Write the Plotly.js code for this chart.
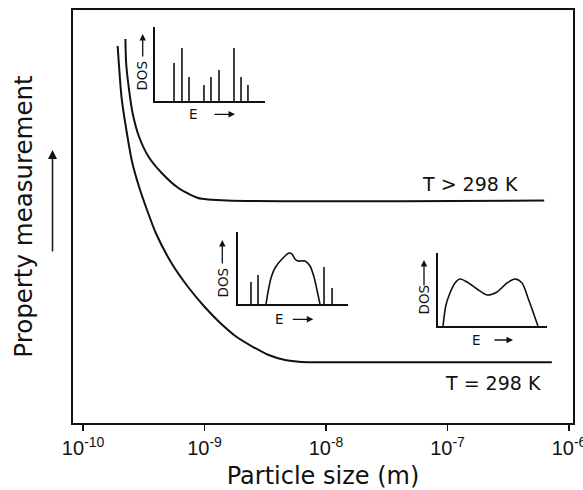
<!DOCTYPE html>
<html>
<head>
<meta charset="utf-8">
<script src="https://cdn.plot.ly/plotly-3.0.1.min.js"></script>
<style>html,body{margin:0;padding:0;background:#fff;}#chart{width:583px;height:490px;}</style>
</head>
<body>
<div id="chart"></div>
<script>
// ---- main curves: particle size (log10 m) vs property (arbitrary units 0-100)
const tickExponents = [-10, -9, -8, -7, -6];
const tickBase = "10";
const tickPowers = ["-10", "-9", "-8", "-7", "-6"];

const hotLogSize = [-9.651, -9.645, -9.624, -9.592, -9.538, -9.459, -9.352, -9.215, -9.054, -8.814, -6.204];
const hotProperty = [92.98, 87.17, 81.36, 75.06, 69.25, 64.41, 60.53, 56.90, 54.48, 53.85, 53.85];

const roomLogSize = [-9.715, -9.683, -9.643, -9.594, -9.538, -9.473, -9.401, -9.272, -9.135, -8.998, -8.870, -8.735, -8.599, -8.472, -8.337, -8.201, -8.018, -6.141];
const roomProperty = [91.28, 78.93, 70.94, 62.95, 57.14, 51.57, 46.0, 38.74, 32.93, 28.09, 24.21, 20.82, 18.40, 16.46, 15.25, 14.8, 14.7, 14.7];

const curveLabels = ["T > 298 K", "T = 298 K"];

// ---- inset 1: discrete levels (smallest particles)
const inset1Energy = [0.173, 0.245, 0.309, 0.445, 0.509, 0.582, 0.718, 0.782, 0.845];
const inset1Dos = [0.514, 0.716, 0.324, 0.216, 0.324, 0.419, 0.716, 0.324, 0.216];

// ---- inset 2: band with discrete edge levels
const inset2LevelEnergy = [0.118, 0.182, 0.782, 0.855];
const inset2LevelDos = [0.306, 0.403, 0.514, 0.222];
const inset2BandEnergy = [0.255, 0.273, 0.300, 0.336, 0.400, 0.464, 0.491, 0.518, 0.545, 0.609, 0.655, 0.691, 0.718, 0.745];
const inset2BandDos = [0.0, 0.167, 0.36, 0.5, 0.625, 0.708, 0.694, 0.625, 0.597, 0.597, 0.528, 0.375, 0.194, 0.0];

// ---- inset 3: continuous band (bulk)
const inset3Energy = [0.046, 0.073, 0.110, 0.156, 0.202, 0.266, 0.358, 0.450, 0.541, 0.633, 0.706, 0.771, 0.826, 0.872, 0.917];
const inset3Dos = [0.0, 0.288, 0.452, 0.589, 0.644, 0.603, 0.507, 0.425, 0.466, 0.589, 0.644, 0.589, 0.384, 0.192, 0.0];

const INK = '#111';
const toMeters = a => a.map(v => Math.pow(10, v));
const tickLabels = tickPowers.map(p => tickBase + "<sup>" + p + "</sup>");
function sticks(energy, dos) {
  const x = [], y = [];
  energy.forEach((e, i) => { x.push(e, e, null); y.push(0, dos[i], null); });
  return {x, y};
}
const s1 = sticks(inset1Energy, inset1Dos);
const s2 = sticks(inset2LevelEnergy, inset2LevelDos);

const traces = [
  {x: toMeters(hotLogSize), y: hotProperty, mode: 'lines', line: {color: INK, width: 2, shape: 'spline', smoothing: 0.6}, xaxis: 'x', yaxis: 'y', hoverinfo: 'skip'},
  {x: toMeters(roomLogSize), y: roomProperty, mode: 'lines', line: {color: INK, width: 2, shape: 'spline', smoothing: 0.6}, xaxis: 'x', yaxis: 'y', hoverinfo: 'skip'},
  {x: s1.x, y: s1.y, mode: 'lines', line: {color: INK, width: 1.6}, xaxis: 'x2', yaxis: 'y2', hoverinfo: 'skip'},
  {x: s2.x, y: s2.y, mode: 'lines', line: {color: INK, width: 1.6}, xaxis: 'x3', yaxis: 'y3', hoverinfo: 'skip'},
  {x: inset2BandEnergy, y: inset2BandDos, mode: 'lines', line: {color: INK, width: 1.6, shape: 'spline', smoothing: 0.7}, xaxis: 'x3', yaxis: 'y3', hoverinfo: 'skip'},
  {x: inset3Energy, y: inset3Dos, mode: 'lines', line: {color: INK, width: 1.6, shape: 'spline', smoothing: 0.8}, xaxis: 'x4', yaxis: 'y4', hoverinfo: 'skip'}
];

function insetAxes(xd, yd, n) {
  const base = {range: [0, 1], showline: true, linewidth: 2, linecolor: INK, showticklabels: false, ticks: '', showgrid: false, zeroline: false, fixedrange: true};
  const o = {};
  o['xaxis' + n] = Object.assign({}, base, {domain: xd, anchor: 'y' + n});
  o['yaxis' + n] = Object.assign({}, base, {domain: yd, anchor: 'x' + n});
  return o;
}

const F = 'DejaVu Sans, sans-serif';
function txt(text, x, y, size, angle) {
  return {text: text, xref: 'paper', yref: 'paper', x: x, y: y, xanchor: 'center', yanchor: 'middle', showarrow: false, textangle: angle || 0, font: {family: F, size: size, color: INK}};
}
function arrow(x, y, ax, ay, w, s) {
  return {text: '', xref: 'paper', yref: 'paper', x: x, y: y, ax: ax, ay: ay, showarrow: true, arrowhead: 2, arrowsize: s, arrowwidth: w, arrowcolor: INK, standoff: 0, startstandoff: 0};
}

const layout = Object.assign({
  width: 583, height: 490,
  margin: {l: 73, r: 10, t: 10, b: 67},
  paper_bgcolor: '#fff', plot_bgcolor: '#fff',
  showlegend: false,
  xaxis: {
    type: 'log', range: [-10.0823, -5.967],
    tickmode: 'array', tickvals: toMeters(tickExponents), ticktext: tickLabels,
    ticks: 'outside', ticklen: 6, tickwidth: 1.5, tickcolor: INK,
    ticklabeloverflow: 'allow',
    showline: true, mirror: true, linewidth: 2, linecolor: INK,
    showgrid: false, zeroline: false,
    tickfont: {family: 'Liberation Sans, Arial, sans-serif', size: 20, color: INK},
    title: {text: 'Particle size (m)', font: {family: F, size: 24, color: INK}, standoff: 12}
  },
  yaxis: {
    range: [0, 100], showticklabels: false, ticks: '',
    showline: true, mirror: true, linewidth: 2, linecolor: INK,
    showgrid: false, zeroline: false,
    title: {text: 'Property measurement', font: {family: F, size: 24.5, color: INK}, standoff: 31}
  },
  annotations: [
    txt(curveLabels[0], 0.794, 0.578, 19),
    txt(curveLabels[1], 0.839, 0.097, 19),
    arrow(-0.041, 0.661, 0, 103, 1.5, 1.2),
    txt('DOS', 0.139, 0.84, 13.5, -90),
    txt('DOS', 0.299, 0.339, 13.5, -90),
    txt('DOS', 0.703, 0.2978, 13.5, -90),
    arrow(0.1394, 0.9419, 0, 24, 1.3, 1),
    arrow(0.2986, 0.4431, 0, 25, 1.3, 1),
    arrow(0.702, 0.3947, 0, 27, 1.3, 1),
    txt('E', 0.241, 0.7482, 13.5),
    txt('E', 0.412, 0.2518, 13.5),
    txt('E', 0.807, 0.1998, 13.5),
    arrow(0.324, 0.7475, -22, 0, 1.3, 1),
    arrow(0.4806, 0.2511, -22, 0, 1.3, 1),
    arrow(0.88, 0.201, -20, 0, 1.3, 1)
  ]
},
  insetAxes([0.164, 0.384], [0.7797, 0.9588], 2),
  insetAxes([0.33, 0.55], [0.2881, 0.4625], 3),
  insetAxes([0.73, 0.948], [0.2349, 0.4116], 4)
);

Plotly.newPlot('chart', traces, layout, {staticPlot: true, displayModeBar: false});
</script>
</body>
</html>
